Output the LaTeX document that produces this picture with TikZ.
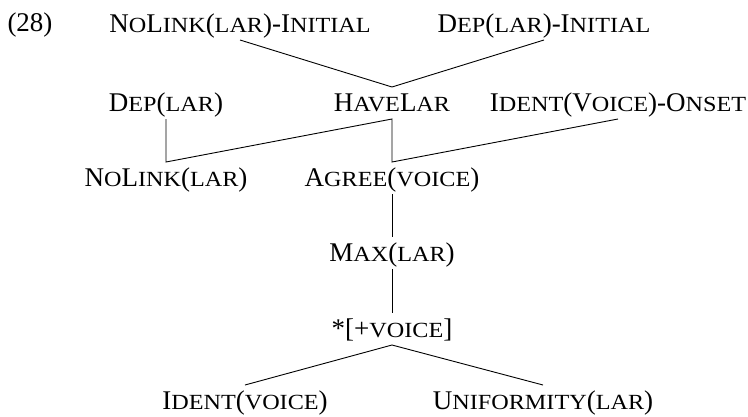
\documentclass[tikz,border=0pt]{standalone}
\usepackage{fontspec}
\setmainfont{Liberation Serif}
\newfontfamily\scfont[Scale=0.8,FakeStretch=1.12]{Liberation Serif}
\newcommand\sca[1]{{\scfont #1}}
\begin{document}
\begin{tikzpicture}[x=1pt,y=-1pt,
  con/.style={font=\fontsize{27}{31}\selectfont, inner sep=0pt, outer sep=0pt,
    minimum height=32pt, text height=17.9pt, text depth=0pt},
  link/.style={line width=0.9pt}]
\useasboundingbox (0,0) rectangle (748,416);
\node[con] (num) at (30,23) {(28)};
\node[con] (a) at (240,24) {N\sca{O}L\sca{INK}(\sca{LAR})-I\sca{NITIAL}};
\node[con] (b) at (544,24) {D\sca{EP}(\sca{LAR})-I\sca{NITIAL}};
\node[con] (c) at (166,103) {D\sca{EP}(\sca{LAR})};
\node[con] (d) at (392,103) {H\sca{AVE}L\sca{AR}};
\node[con] (e) at (618,103) {I\sca{DENT}(V\sca{OICE})-O\sca{NSET}};
\node[con] (f) at (166,178) {N\sca{O}L\sca{INK}(\sca{LAR})};
\node[con] (g) at (392,178) {A\sca{GREE}(\sca{VOICE})};
\node[con] (h) at (392,253) {M\sca{AX}(\sca{LAR})};
\node[con] (i) at (392,329) {*[+\sca{VOICE}]};
\node[con] (j) at (245,401) {I\sca{DENT}(\sca{VOICE})};
\node[con] (k) at (543,401) {U\sca{NIFORMITY}(\sca{LAR})};
\draw[link] (a.south) -- (d.north) -- (b.south);
\draw[link] (c.south) -- (f.north) -- (d.south) -- (g.north) -- (e.south);
\draw[link] (g.south) -- (h.north);
\draw[link] (h.south) -- (i.north);
\draw[link] (j.north) -- (i.south) -- (k.north);
\end{tikzpicture}
\end{document}
